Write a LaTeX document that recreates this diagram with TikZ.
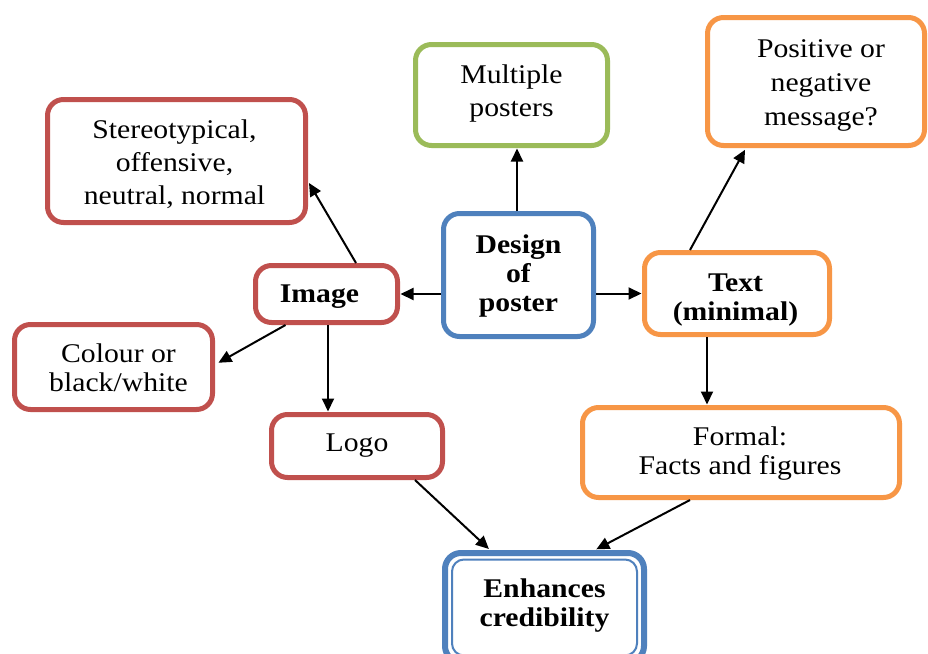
\documentclass[tikz,border=0pt]{standalone}
\usepackage{fontspec}
\setmainfont{Liberation Serif}[FakeStretch=1.1]
\usetikzlibrary{arrows.meta,calc}
\definecolor{cred}{HTML}{C0504D}
\definecolor{cgreen}{HTML}{9BBB59}
\definecolor{corange}{HTML}{F79646}
\definecolor{cblue}{HTML}{4F81BD}
\begin{document}
\begin{tikzpicture}[x=1pt,y=-1pt,
 box/.style={draw, line width=5pt, rounded corners=16pt, fill=white, inner sep=0pt},
 lbl/.style={inner sep=0pt, align=center, font=\fontsize{27}{33}\selectfont},
 blbl/.style={lbl, font=\fontsize{27}{29}\selectfont\bfseries},
 arr/.style={line width=2pt, -{Triangle[length=13pt,width=12pt]}, shorten >=0.5pt}]
\useasboundingbox (0,0) rectangle (928,653);
\clip (0,0) rectangle (928,653);
\fill[white] (0,0) rectangle (928,653);
% boxes
\node[box, draw=cgreen, minimum width=192pt, minimum height=101pt] (multi) at (511.5,95) {};
\node[box, draw=corange, minimum width=217pt, minimum height=128pt] (pos) at (816,81.5) {};
\node[box, draw=cred, minimum width=258pt, minimum height=123pt] (stereo) at (176.5,161) {};
\node[box, draw=cblue, minimum width=150pt, minimum height=123pt] (design) at (518.5,275) {};
\node[box, draw=cred, minimum width=142pt, minimum height=57pt] (image) at (326.5,294) {};
\node[box, draw=corange, minimum width=185pt, minimum height=82pt] (text) at (737,293.5) {};
\node[box, draw=cred, minimum width=198pt, minimum height=85pt] (colour) at (113.5,367) {};
\node[box, draw=cred, minimum width=171pt, minimum height=63pt] (logo) at (357,446) {};
\node[box, draw=corange, minimum width=317pt, minimum height=90pt] (formal) at (741,452.5) {};
\node[box, draw=cblue, line width=6pt, minimum width=199pt, minimum height=109pt] (enh) at (544.5,607.5) {};
\node[draw=cblue, line width=2pt, rounded corners=12pt, minimum width=185pt, minimum height=96pt, inner sep=0pt] (enhin) at (enh.center) {};
% texts
\node[lbl] (multiL) at ($(multi.center)+(0,-1)$) {Multiple\\posters};
\node[lbl, font=\fontsize{27}{34}\selectfont] (posL) at ($(pos.center)+(5,3.5)$) {Positive or\\negative\\message?};
\node[lbl] (stereoL) at ($(stereo.center)+(-2,3.5)$) {Stereotypical,\\offensive,\\neutral, normal};
\node[blbl] (designL) at ($(design.center)+(0,1)$) {Design\\of\\poster};
\node[blbl] (imageL) at ($(image.center)+(-7,3)$) {Image};
\node[blbl] (textL) at ($(text.center)+(-1.5,7)$) {Text\\(minimal)};
\node[lbl, font=\fontsize{27}{29}\selectfont] (colourL) at ($(colour.center)+(5,1)$) {Colour or\\black/white};
\node[lbl] (logoL) at (logo.center) {Logo};
\node[lbl, font=\fontsize{27}{29}\selectfont] (formalL) at ($(formal.center)+(-1,1)$) {Formal:\\Facts and figures};
\node[blbl] (enhL) at ($(enh.center)+(0,-1.5)$) {Enhances\\credibility};
% connector end points
\coordinate (dtop) at ($(design.north)+(-1.5,0)$);
\coordinate (ibot) at ($(image.south)+(1.5,0)$);
\coordinate (tbot) at ($(text.south)+(-30,0)$);
% connectors
\draw[arr] (dtop) -- (dtop |- multi.south);
\draw[arr] (design.west |- image.east) -- (image.east);
\draw[arr] (design.east |- text.west) -- (text.west);
\draw[arr, shorten >=2pt] ($(text.north)+(-47,0)$) -- ($(pos.south)+(-70,0)$);
\draw[arr, shorten >=0pt] ($(image.north)+(29.5,0)$) -- ($(stereo.east)+(1,22)$);
\draw[arr] ($(image.south)+(-41,0)$) -- ($(colour.east)+(3,-4)$);
\draw[arr] (ibot) -- (ibot |- logo.north);
\draw[arr] (tbot) -- (tbot |- formal.north);
\draw[arr, shorten >=1.5pt] ($(logo.south)+(58,0)$) -- ($(enh.north)+(-54.5,0)$);
\draw[arr, shorten >=1.5pt] ($(formal.south)+(-51,0)$) -- ($(enh.north)+(50.5,0)$);
\end{tikzpicture}
\end{document}
